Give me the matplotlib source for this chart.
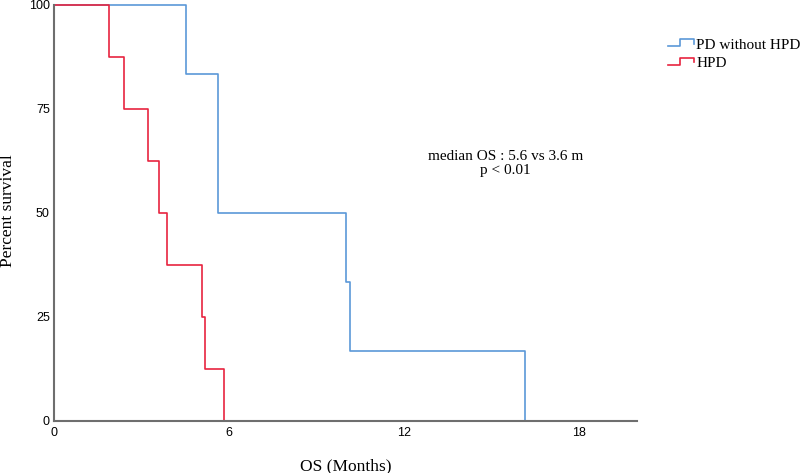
import matplotlib
matplotlib.use("Agg")
import matplotlib.pyplot as plt
from matplotlib.legend_handler import HandlerBase
from matplotlib.lines import Line2D

# Kaplan-Meier step data (months, percent survival)
pd_times = [0, 4.53, 5.63, 10.02, 10.15, 16.14]
pd_surv = [100, 83.3, 50, 33.3, 16.7, 0]
hpd_times = [0, 1.87, 2.40, 3.23, 3.60, 3.89, 5.06, 5.19, 5.83]
hpd_surv = [100, 87.5, 75, 62.5, 50, 37.5, 25, 12.5, 0]

labels = ["PD without HPD", "HPD"]
colors = ["#5b98d8", "#e8243f"]
x_ticks = [0, 6, 12, 18]
y_ticks = [0, 25, 50, 75, 100]


class StepHandler(HandlerBase):
    # little step glyph like the SPSS legend
    def create_artists(self, legend, orig_handle, xdescent, ydescent,
                       width, height, fontsize, trans):
        w, h = width, height
        xs = [0, 0.45 * w, 0.45 * w, w, w]
        ys = [0.2 * h, 0.2 * h, 0.85 * h, 0.85 * h, 0.45 * h]
        ln = Line2D(xs, ys, color=orig_handle.get_color(), lw=1.2)
        ln.set_transform(trans)
        return [ln]


fig = plt.figure(figsize=(8, 4.73), dpi=100)
ax = fig.add_axes([0.0675, 0.110, 0.729, 0.880])

h1, = ax.step(pd_times, pd_surv, where="post", color=colors[0], lw=1.2, clip_on=False)
h2, = ax.step(hpd_times, hpd_surv, where="post", color=colors[1], lw=1.2, clip_on=False)

ax.set_xlim(0, 20)
ax.set_ylim(0, 100)
ax.set_xticks(x_ticks)
ax.set_yticks(y_ticks)
ax.tick_params(axis="x", length=0, labelsize=9, pad=4)
ax.tick_params(axis="y", length=0, labelsize=9, pad=3)
for lab in ax.get_xticklabels() + ax.get_yticklabels():
    lab.set_family("Liberation Sans")

for s in ["top", "right"]:
    ax.spines[s].set_visible(False)
for s in ["left", "bottom"]:
    ax.spines[s].set_color("#6e6e6e")
    ax.spines[s].set_linewidth(1.5)

ax.set_xlabel("OS (Months)", family="Liberation Serif", fontsize=12.5, labelpad=14)
ax.set_ylabel("Percent survival", family="Liberation Serif", fontsize=12.5)
ax.yaxis.set_label_coords(-0.066, 0.505)

ax.text(0.774, 0.618, "median OS : 5.6 vs 3.6 m\np < 0.01", transform=ax.transAxes,
        ha="center", va="center", family="Liberation Serif", fontsize=11,
        linespacing=1.1)

fig.legend([h1, h2], labels, handler_map={Line2D: StepHandler()},
           loc="upper left", bbox_to_anchor=(0.835, 0.92), frameon=False,
           prop={"family": "Liberation Serif", "size": 11},
           handlelength=1.7, handletextpad=0.15, labelspacing=0.3,
           borderaxespad=0, borderpad=0)

fig.savefig("out.png", dpi=100)
